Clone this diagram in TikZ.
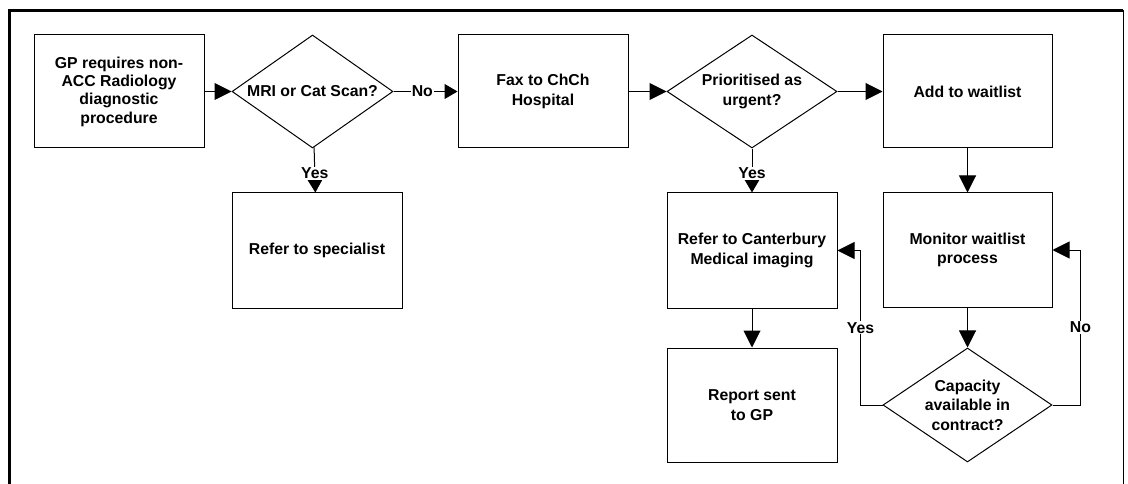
\documentclass[tikz,border=0pt]{standalone}
\usepackage{fontspec}
\setmainfont{Liberation Sans}
\usetikzlibrary{shapes.geometric,arrows.meta}

\begin{document}
\begin{tikzpicture}[x=1pt,y=-1pt,line width=1pt,
    box/.style={draw,minimum width=170pt,minimum height=113pt,inner sep=2pt,align=center,
      font=\fontsize{15.8}{19.5}\selectfont\bfseries},
    dec/.style={draw,diamond,minimum width=168pt,minimum height=113pt,inner sep=0pt},
    txt/.style={align=center,inner sep=0pt,font=\fontsize{15.8}{19.5}\selectfont\bfseries},
    lbl/.style={fill=white,inner sep=1pt,font=\fontsize{15.8}{19}\selectfont\bfseries},
    arr/.style={-{Triangle[length=17pt,width=17pt]}},
    arrs/.style={-{Triangle[length=13pt,width=15pt]}}]
\useasboundingbox (0,0) rectangle (1128,484);
\draw[line width=3pt] (9.7,484) -- (9.7,10.5) -- (1123.3,10.5);
\draw (1123.3,10.5) -- (1123.3,484);

\node[box,font=\fontsize{15.8}{18.3}\selectfont\bfseries] (gp) at (119,91.5) {GP requires non-\\ACC Radiology\\diagnostic\\procedure};
\node[dec,minimum width=161pt] (mri) at (312.5,91.5) {};
\node[txt] (mriT) at (mri) {MRI or Cat Scan?};
\node[box] (fax) at (543,91.5) {Fax to ChCh\\Hospital};
\node[dec,minimum width=170pt] (urgent) at (752,91.5) {};
\node[txt] (urgentT) at (urgent) {Prioritised as\\urgent?};
\node[box,minimum width=169pt] (wait) at (967.5,91.5) {Add to waitlist};

\node[box,minimum height=115pt] (spec) at (317,250.5) {Refer to specialist};
\node[box,minimum height=115pt] (cmi) at (752,250.5) {Refer to Canterbury\\Medical imaging};
\node[box,minimum width=169pt,minimum height=114pt] (monitor) at (967.5,250) {Monitor waitlist\\process};
\node[box,minimum height=114pt] (report) at (752,405) {Report sent\\to GP};
\node[dec,minimum width=169pt,minimum height=114pt] (capacity) at (967.5,405) {};
\node[txt] (capacityT) at (capacity) {Capacity\\available in\\contract?};

\coordinate (yesC) at (860.5,405);
\coordinate (noC) at (1080.5,405);

\draw[arr] (gp) -- (mri);
\draw[arrs] (mri) -- node[lbl,pos=0.45]{No} (fax);
\draw[arrs] (mri) -- node[lbl,pos=0.57]{Yes} (spec);
\draw[arr] (fax) -- (urgent);
\draw[arr] (urgent) -- (wait);
\draw[arrs] (urgent) -- node[lbl,pos=0.57]{Yes} (cmi);
\draw[arr] (wait) -- (monitor);
\draw[arr] (monitor) -- (capacity);
\draw[arr] (cmi) -- (report);
\draw[arr] (capacity.west) -- (yesC) |- node[lbl,pos=0.25]{Yes} (cmi.east);
\draw[arr] (capacity.east) -- (noC) |- node[lbl,pos=0.25]{No} (monitor.east);
\end{tikzpicture}
\end{document}
